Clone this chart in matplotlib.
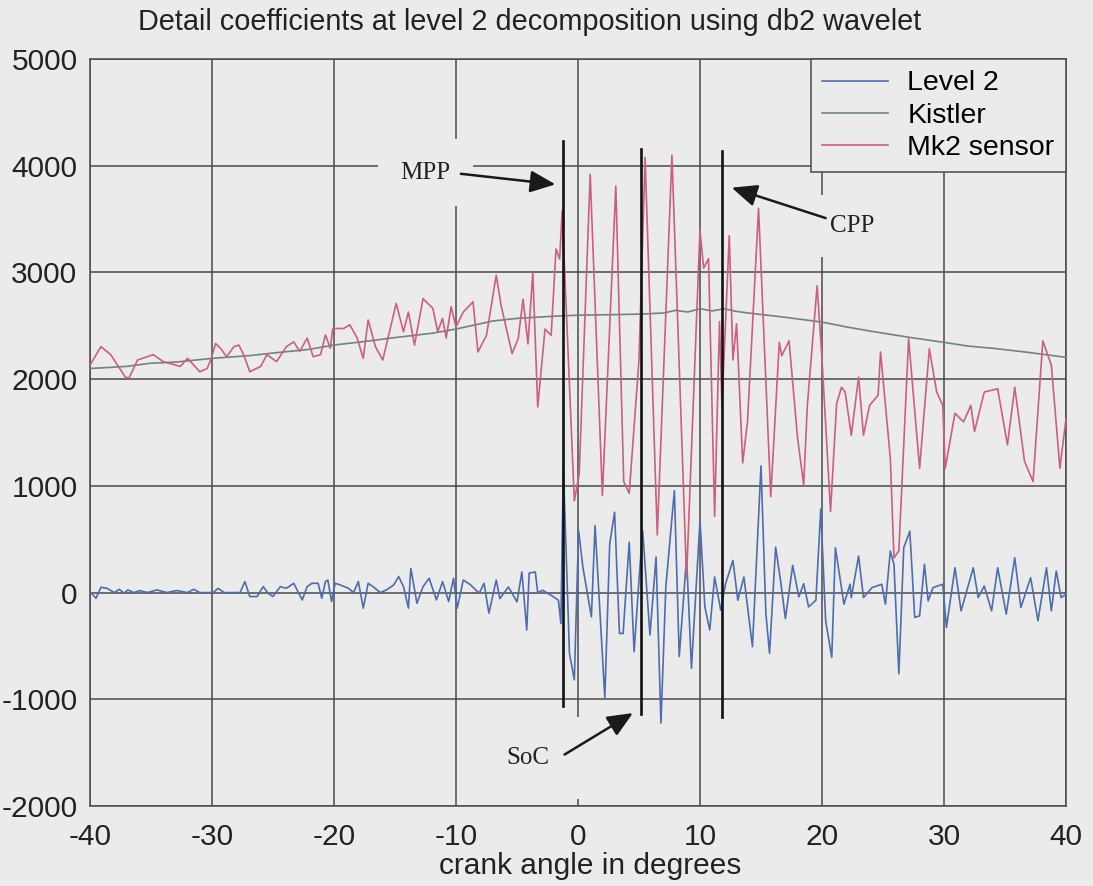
import numpy as np
import matplotlib
matplotlib.use("Agg")
import matplotlib.pyplot as plt

plt.rcParams['font.family'] = ['Liberation Sans', 'DejaVu Sans']
plt.rcParams['axes.unicode_minus'] = False

# --- data (crank angle, value) ---
mk2 = [(-40, 2130), (-39.1, 2305), (-38.3, 2230), (-37.1, 2020), (-36.8, 2010), (-36.1, 2180),
       (-34.8, 2230), (-34.0, 2165), (-32.6, 2120), (-32.0, 2195), (-31.0, 2070), (-30.4, 2100),
       (-30.1, 2180), (-29.7, 2335), (-29.3, 2290), (-28.8, 2210), (-28.2, 2305), (-27.8, 2320),
       (-27.4, 2230), (-26.9, 2070), (-26.0, 2120), (-25.5, 2230), (-24.7, 2165), (-23.9, 2305),
       (-23.3, 2350), (-22.8, 2260), (-22.2, 2385), (-21.7, 2210), (-21.1, 2230), (-20.7, 2415),
       (-20.3, 2290), (-20.1, 2475), (-19.2, 2475), (-18.7, 2510), (-18.1, 2385), (-17.6, 2195),
       (-17.2, 2555), (-16.6, 2305), (-16.0, 2180), (-14.9, 2710), (-14.3, 2445), (-13.9, 2630),
       (-13.4, 2320), (-12.7, 2755), (-11.9, 2665), (-11.5, 2445), (-11.1, 2570), (-10.8, 2385),
       (-10.4, 2680), (-10.0, 2490), (-9.4, 2630), (-8.6, 2725), (-8.2, 2255), (-7.5, 2410),
       (-6.7, 2975), (-6.3, 2690), (-5.4, 2240), (-4.9, 2380), (-4.5, 2750), (-4.1, 2330),
       (-3.7, 3000), (-3.3, 1740), (-2.7, 2470), (-2.2, 2410), (-1.8, 3220), (-1.5, 3125),
       (-1.3, 3580), (-0.3, 860), (0.1, 1110), (1.0, 3920), (2.0, 910), (3.1, 3810),
       (3.75, 1040), (4.2, 930), (5.0, 2180), (5.5, 4080), (6.5, 540), (7.7, 4100),
       (8.9, 140), (10.0, 3400), (10.3, 3040), (10.7, 3130), (11.2, 715), (11.6, 2540),
       (11.8, 1750), (12.4, 3345), (12.7, 2180), (13.0, 2520), (13.5, 1215), (13.9, 1610),
       (14.8, 3600), (15.8, 900), (16.5, 2345), (16.7, 2220), (17.3, 2360), (18.0, 1445),
       (18.5, 1010), (18.8, 1755), (19.6, 2875), (20.0, 2190), (20.7, 760), (21.2, 1770),
       (21.6, 1925), (21.9, 1880), (22.4, 1475), (23.0, 2020), (23.4, 1475), (23.9, 1755),
       (24.6, 1850), (24.8, 2255), (25.6, 1260), (25.9, 325), (26.3, 390), (27.1, 2380),
       (28.0, 1165), (28.8, 2285), (29.4, 1880), (29.9, 1755), (30.1, 1165), (30.9, 1680),
       (31.6, 1600), (32.2, 1755), (32.5, 1510), (33.3, 1880), (34.4, 1910), (35.2, 1385),
       (35.8, 1925), (36.6, 1230), (37.3, 1040), (38.1, 2360), (38.8, 2130), (39.5, 1165),
       (40.0, 1630)]

kistler = [(-40, 2100), (-37, 2120), (-35, 2150), (-33, 2160), (-30, 2195), (-27, 2220),
           (-25, 2245), (-22, 2280), (-20, 2320), (-17, 2360), (-15, 2390), (-12, 2430),
           (-10, 2470), (-7, 2545), (-5, 2570), (-2, 2590), (0, 2600), (3, 2605), (5, 2610),
           (7, 2620), (8, 2645), (9, 2630), (10, 2660), (11, 2640), (12, 2660), (13, 2635),
           (14, 2620), (17, 2580), (20, 2535), (22, 2490), (24, 2450), (27, 2395), (30, 2345),
           (32, 2310), (34, 2290), (37, 2250), (40, 2205)]

level2 = [(-40, 9), (-39.5, -53), (-39.1, 50), (-38.6, 40), (-38.0, 0), (-37.6, 31), (-37.2, -6),
          (-36.9, 25), (-36.4, 0), (-35.9, 19), (-35.3, 0), (-34.5, 25), (-33.7, 0), (-32.9, 19),
          (-32.0, 0), (-31.5, 31), (-31.0, 0), (-29.9, 0), (-29.5, 40), (-29.0, 0), (-27.7, 0),
          (-27.3, 103), (-26.9, -37), (-26.3, -37), (-25.8, 56), (-25.4, -6), (-25.0, -37),
          (-24.4, 56), (-23.9, 40), (-23.3, 87), (-22.6, -69), (-22.2, 56), (-21.8, 87),
          (-21.3, 87), (-21.0, -53), (-20.7, 103), (-20.5, 118), (-20.2, -84), (-19.9, 87),
          (-19.5, 72), (-18.8, 40), (-18.4, 0), (-18.0, 103), (-17.6, -146), (-17.2, 87),
          (-16.8, 56), (-16.2, 0), (-15.7, 25), (-15.1, 72), (-14.7, 150), (-14.3, 56),
          (-13.9, -146), (-13.7, 227), (-13.2, -100), (-12.7, 56), (-12.2, 134), (-11.6, -69),
          (-11.1, 103), (-10.6, -84), (-10.2, 134), (-9.9, -146), (-9.4, 118), (-8.8, 72),
          (-8.1, -6), (-7.7, 87), (-7.3, -193), (-6.7, 118), (-6.4, -56), (-5.7, 53), (-5.0, -87),
          (-4.6, 193), (-4.2, -351), (-4.0, 183), (-3.5, 193), (-3.3, 0), (-2.9, 22), (-2.0, -40),
          (-1.6, -72), (-1.4, -290), (-1.2, 1188), (-0.7, -569), (-0.3, -818), (0.05, 582),
          (0.4, 240), (1.1, -227), (1.4, 628), (2.2, -989), (2.6, 457), (3.0, 753), (3.4, -383),
          (3.7, -383), (4.2, 473), (4.6, -554), (5.0, 115), (5.3, 582), (5.9, -398), (6.4, 333),
          (6.8, -1222), (7.2, 53), (7.9, 955), (8.3, -600), (8.9, 333), (9.3, -709), (10.0, 675),
          (10.4, -134), (10.8, -351), (11.2, 146), (11.7, -165), (12.1, 84), (12.7, 302),
          (13.1, -72), (13.6, 146), (14.3, -507), (15.0, 1188), (15.4, -196), (15.7, -569),
          (16.2, 426), (16.6, 115), (17.0, -243), (17.6, 255), (18.1, -40), (18.5, 84),
          (18.9, -134), (19.5, -72), (19.9, 784), (20.3, -264), (20.8, -606), (21.1, 420),
          (21.8, -109), (22.3, 78), (22.4, -47), (23.0, 342), (23.4, -47), (24.1, 47), (24.9, 78),
          (25.2, -109), (25.6, 389), (25.9, 264), (26.3, -762), (26.7, 420), (27.2, 575),
          (27.6, -233), (28.0, -218), (28.4, 264), (28.7, -78), (29.1, 47), (29.9, 78),
          (30.2, -326), (30.9, 233), (31.4, -171), (32.4, 233), (32.8, -47), (33.3, 62),
          (33.9, -171), (34.4, 233), (35.1, -202), (35.8, 326), (36.3, -140), (37.1, 140),
          (37.7, -264), (38.4, 233), (38.8, -171), (39.2, 202), (39.6, -47), (40, -16)]

# event marker lines: x, bottom, top
marker_x = [-1.25, 5.15, 11.8]
marker_bottom = [-1067, -1138, -1166]
marker_top = [4237, 4158, 4136]

# annotations: label, text position, arrow tail, arrow tip
labels = ["MPP", "CPP", "SoC"]
label_pos = [(-12.5, 3935), (22.5, 3440), (-4.1, -1549)]
arrow_tail = [(-9.6, 3925), (20.3, 3510), (-1.1, -1518)]
arrow_tip = [(-1.85, 3826), (12.6, 3795), (4.5, -1129)]

bg = '#ebebeb'
grid_c = '#4a4a4a'

fig = plt.figure(figsize=(10.93, 8.86), dpi=100, facecolor=bg)
ax = fig.add_axes([0.0823, 0.0903, 0.893, 0.843], facecolor=bg)

mx, my = np.array(mk2).T
kx, ky = np.array(kistler).T
lx, ly = np.array(level2).T

ax.plot(lx, ly, color='#4d6db0', lw=1.2, label='Level 2', zorder=3)
ax.plot(kx, ky, color='#6f8577', lw=1.2, label='Kistler', zorder=3)
ax.plot(mx, my, color='#cc5f7e', lw=1.2, label='Mk2 sensor', zorder=3)

for x0, b, t in zip(marker_x, marker_bottom, marker_top):
    ax.plot([x0, x0], [b, t], color='#111111', lw=1.9, zorder=4)

ax.set_xlim(-40, 40)
ax.set_ylim(-2000, 5000)
ax.set_xticks(np.arange(-40, 41, 10))
ax.set_yticks(np.arange(-2000, 5001, 1000))
ax.grid(True, color=grid_c, lw=1.1)
ax.set_axisbelow(True)
ax.tick_params(length=0, labelsize=21.5, colors='#222222')
ax.tick_params(axis='x', pad=12)
ax.tick_params(axis='y', pad=9)
for s in ax.spines.values():
    s.set_color(grid_c)
    s.set_linewidth(1.1)

pads = [0.9, 0.8, 1.2]
for lab, pos, pad in zip(labels, label_pos, pads):
    ax.text(pos[0], pos[1], lab, ha='center', va='center', fontsize=18,
            family='Liberation Serif', color='#222222', zorder=5,
            bbox=dict(boxstyle='square,pad=%s' % pad, fc=bg, ec='none'))
for tail, tip in zip(arrow_tail, arrow_tip):
    ax.annotate('', xy=tip, xytext=tail, zorder=6,
                arrowprops=dict(arrowstyle='-|>,head_length=1.1,head_width=0.48',
                                mutation_scale=14, lw=1.8, color='#1a1a1a',
                                shrinkA=0, shrinkB=0))

leg = ax.legend(loc='upper right', fontsize=20.5, borderaxespad=0, borderpad=0.4,
                handlelength=2.3, handletextpad=0.7, labelspacing=0.22,
                fancybox=False, framealpha=1, facecolor=bg, edgecolor=grid_c)
leg.get_frame().set_linewidth(1.1)
leg.set_zorder(7)

fig.text(0.485, 0.975, 'Detail coefficients at level 2 decomposition using db2 wavelet',
         ha='center', va='center', fontsize=20.8, color='#222222')
fig.text(0.54, 0.0226, 'crank angle in degrees', ha='center', va='center',
         fontsize=21.5, color='#222222')

fig.savefig('out.png', dpi=100, facecolor=bg)
